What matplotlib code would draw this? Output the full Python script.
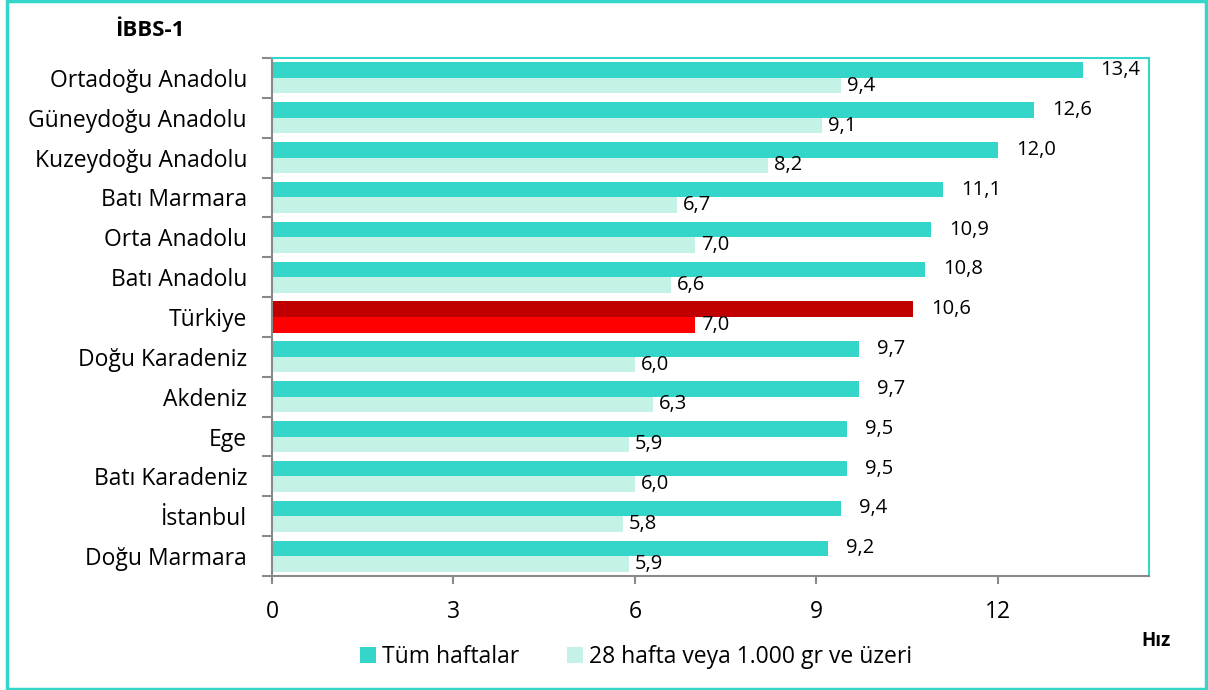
import matplotlib.pyplot as plt
import numpy as np

regions = ['Ortadoğu Anadolu', 'Güneydoğu Anadolu', 'Kuzeydoğu Anadolu', 'Batı Marmara',
           'Orta Anadolu', 'Batı Anadolu', 'Türkiye', 'Doğu Karadeniz', 'Akdeniz', 'Ege',
           'Batı Karadeniz', 'İstanbul', 'Doğu Marmara']
tum = [13.4, 12.6, 12.0, 11.1, 10.9, 10.8, 10.6, 9.7, 9.7, 9.5, 9.5, 9.4, 9.2]
hafta28 = [9.4, 9.1, 8.2, 6.7, 7.0, 6.6, 7.0, 6.0, 6.3, 5.9, 6.0, 5.8, 5.9]
xticks = [0, 3, 6, 9, 12]

teal = '#33D6C8'
light = '#C5F2E6'
grey = '#898989'

plt.rcParams['font.family'] = ['Open Sans', 'DejaVu Sans']

fig = plt.figure(figsize=(12.08, 6.90), dpi=100)
ax = fig.add_axes([0.2252, 0.1652, 0.9512 - 0.2252, 0.9159 - 0.1652])

y = np.arange(len(regions))
h = 0.39
c1 = [('#C00000' if r == 'Türkiye' else teal) for r in regions]
c2 = [('#FF0000' if r == 'Türkiye' else light) for r in regions]
ax.barh(y - h / 2, tum, height=h, color=c1, label='Tüm haftalar')
ax.barh(y + h / 2, hafta28, height=h, color=c2, label='28 hafta veya 1.000 gr ve üzeri')

for i in range(len(regions)):
    ax.annotate(f'{tum[i]:.1f}'.replace('.', ','), (tum[i], y[i] - h / 2), xytext=(18, 0),
                textcoords='offset pixels', va='center', ha='left', fontsize=14.5)
    ax.annotate(f'{hafta28[i]:.1f}'.replace('.', ','), (hafta28[i], y[i] + h / 2), xytext=(6, 0),
                textcoords='offset pixels', va='center', ha='left', fontsize=14.5)

ax.set_xlim(0, 14.5)
ax.set_ylim(len(regions) - 0.5, -0.5)
ax.set_xticks(xticks)
ax.set_xticklabels([str(t) for t in xticks], fontsize=16.5)
ax.tick_params(axis='x', direction='out', length=6, color=grey, width=1.5, pad=11)

ax.set_yticks(y)
ax.set_yticklabels(regions, fontsize=16.5)
ax.set_yticks(np.arange(len(regions) + 1) - 0.5, minor=True)
ax.tick_params(axis='y', which='major', length=0, pad=18)
ax.tick_params(axis='y', which='minor', direction='out', length=7, color=grey, width=1.5)

for s in ['left', 'bottom']:
    ax.spines[s].set_color(grey)
    ax.spines[s].set_linewidth(1.5)
for s in ['top', 'right']:
    ax.spines[s].set_color(teal)
    ax.spines[s].set_linewidth(1.5)

fig.text(115 / 1208, 1 - 31 / 690, 'İBBS-1', fontsize=16, fontweight='bold', va='center', ha='left')
fig.text(1156 / 1208, 1 - 641 / 690, 'Hız', fontsize=13.5, fontweight='bold', va='center', ha='center')

fig.legend(loc='center', bbox_to_anchor=(636 / 1208, 1 - 657 / 690), ncol=2, frameon=False,
           fontsize=16.5, handlelength=0.7, handleheight=0.7, handletextpad=0.25, columnspacing=2.1)

fig.patches.append(plt.Rectangle((0.006, 0.002), 0.992, 0.996, transform=fig.transFigure,
                                 fill=False, edgecolor=teal, linewidth=2.5))

fig.savefig('out.png', dpi=100)
